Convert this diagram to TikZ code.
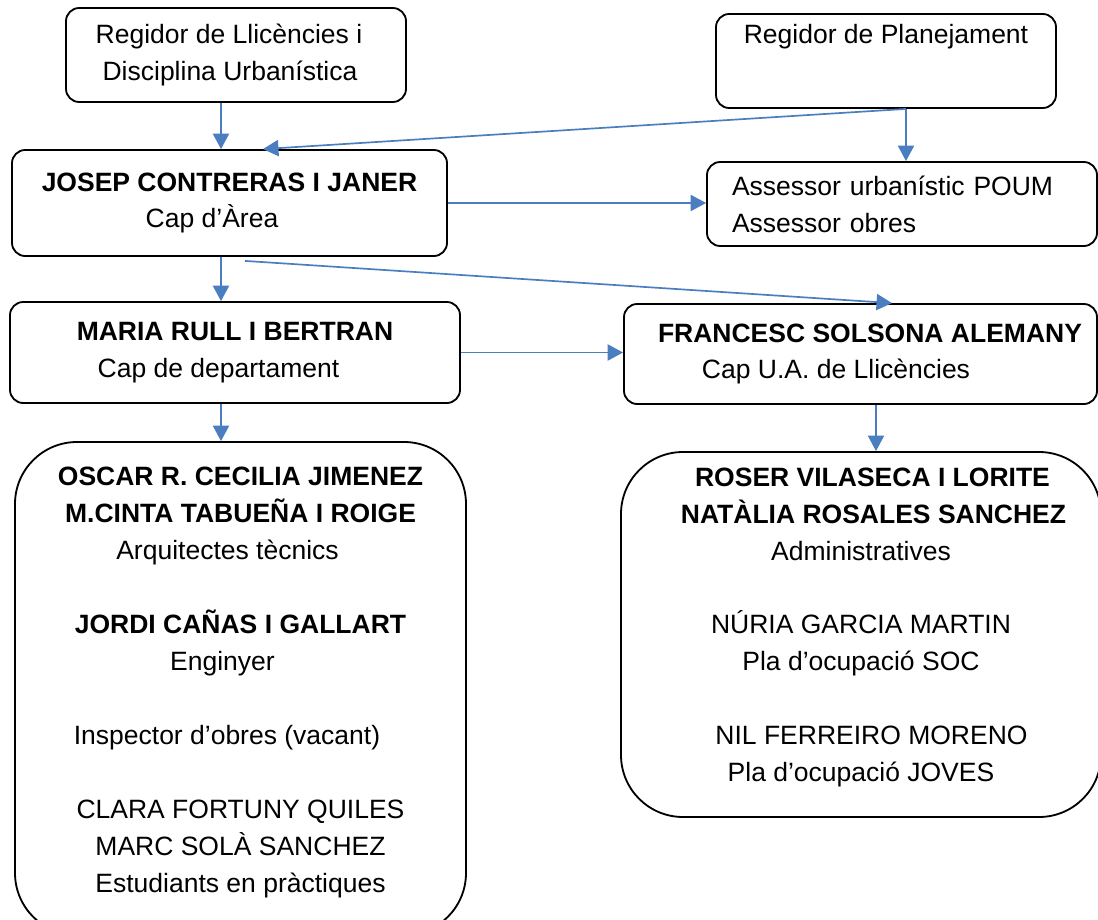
\documentclass[tikz,border=0pt]{standalone}
\usepackage{fontspec}
\setmainfont{Liberation Sans}
\usetikzlibrary{arrows.meta}
\definecolor{lblue}{RGB}{74, 126, 192}

\begin{document}
\begin{tikzpicture}[line width=1.3pt,
    font=\fontsize{18.85pt}{26.3pt}\selectfont,
    box/.style={draw, rounded corners=0.33cm, align=center, inner sep=0pt},
    bigbox/.style={draw, rounded corners=1.55cm, align=center, inner sep=0pt},
    link/.style={draw=lblue, line width=1.2pt, -{Triangle[length=11pt,width=11.5pt]}}]
    \useasboundingbox (0,0) rectangle (27.45,-22.975);

    \node[box, minimum width=8.5cm, minimum height=2.35cm] (reglic) at (5.9,-1.375) {Regidor de Llicències i\rule{0.35cm}{0pt}\\Disciplina Urbanística\rule{0.3cm}{0pt}};
    \node[box, minimum width=8.5cm, minimum height=2.35cm] (regplan) at (22.15,-1.525) {Regidor de Planejament\\[12.8pt]\mbox{}};
    \node[box, minimum width=10.875cm, minimum height=2.65cm] (cap) at (5.7375,-5.075) {\textbf{JOSEP CONTRERAS I JANER}\\Cap d’Àrea\rule{0.875cm}{0pt}};
    \node[box, align=left, text width=8.5cm, minimum width=9.75cm, minimum height=2.1cm] (assessor) at (22.55,-5.1) {Assessor urbanístic POUM\\Assessor obres};
    \node[box, minimum width=11.25cm, minimum height=2.525cm] (dept) at (5.875,-8.8125) {\textbf{MARIA RULL I BERTRAN}\\Cap de departament\rule{0.825cm}{0pt}};
    \node[box, minimum width=11.825cm, minimum height=2.5cm] (llic) at (21.5125,-8.85) {\hspace*{0.475cm}\textbf{FRANCESC SOLSONA ALEMANY}\\Cap U.A. de Llicències\rule{1.225cm}{0pt}};
    \node[bigbox, minimum width=11.275cm, minimum height=12.325cm] (tecnics) at (6.0125,-17.2125) {\textbf{OSCAR R. CECILIA JIMENEZ}\\\textbf{M.CINTA TABUEÑA I ROIGE}\\Arquitectes tècnics\rule{0.65cm}{0pt}\\\mbox{}\\\textbf{JORDI CAÑAS I GALLART}\\Enginyer\rule{0.9cm}{0pt}\\\mbox{}\\Inspector d’obres (vacant)\rule{0.675cm}{0pt}\\\mbox{}\\CLARA FORTUNY QUILES\\MARC SOLÀ SANCHEZ\\Estudiants en pràctiques\\[-13.8pt]\mbox{}};
    \node[bigbox, minimum width=12cm, minimum height=9.125cm] (admin) at (21.525,-15.8625) {\hspace*{0.575cm}\textbf{ROSER VILASECA I LORITE}\\\hspace*{0.625cm}\textbf{NATÀLIA ROSALES SANCHEZ}\\Administratives\\\mbox{}\\NÚRIA GARCIA MARTIN\\Pla d’ocupació SOC\\\mbox{}\\\hspace*{0.525cm}NIL FERREIRO MORENO\\Pla d’ocupació JOVES\\[-12.4pt]\mbox{}};

    \coordinate (lspine) at (5.525,0);
    \coordinate (rspine) at (22.65,0);
    \coordinate (hspine) at (21.9,0);

    \draw (reglic.south -| lspine) -- (cap.north -| lspine) [link];
    \draw (regplan.south -| rspine) -- (assessor.north -| rspine) [link];
    \draw (regplan.south -| rspine) -- ([xshift=0.8375cm]cap.north) [link];
    \draw (cap.east) -- (cap.east -| assessor.west) [link];
    \draw (cap.south -| lspine) -- (dept.north -| lspine) [link];
    \draw ([xshift=0.3875cm, yshift=-0.1cm]cap.south) -- ([xshift=0.7875cm]llic.north) [link];
    \draw (dept.east) -- (dept.east -| llic.west) [link];
    \draw (dept.south -| lspine) -- (tecnics.north -| lspine) [link];
    \draw (llic.south -| hspine) -- (admin.north -| hspine) [link];
\end{tikzpicture}
\end{document}
